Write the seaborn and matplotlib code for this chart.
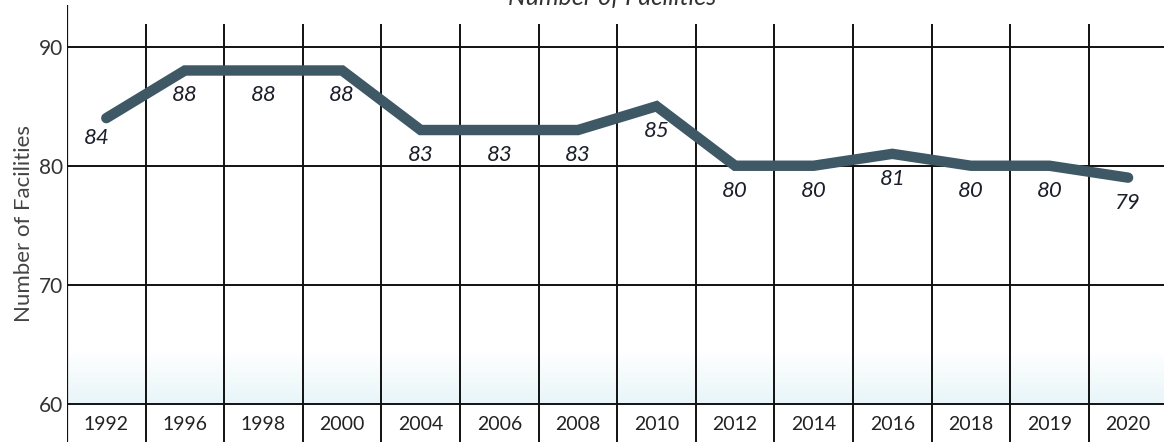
import numpy as np
import pandas as pd
import seaborn as sns
import matplotlib.pyplot as plt

years = ["1992", "1996", "1998", "2000", "2004", "2006", "2008",
         "2010", "2012", "2014", "2016", "2018", "2019", "2020"]
facilities = [84, 88, 88, 88, 83, 83, 83, 85, 80, 80, 81, 80, 80, 79]
y_ticks = [60, 70, 80, 90]

df = pd.DataFrame({"Year": years, "Facilities": facilities})

sns.set_style("white")
plt.rcParams["font.family"] = ["Lato", "DejaVu Sans"]

fig = plt.figure(figsize=(11.64, 4.42), dpi=100)
ax = fig.add_axes([67 / 1164, 0.0, 14 * 78.6 / 1164, 437 / 442])

n = len(years)
ymin, ymax = 56.8, 93.5
ax.set_xlim(-0.5, n - 0.5)
ax.set_ylim(ymin, ymax)

# faint blue tint fading in towards the bottom, like the scanned page
tint = np.zeros((100, 1, 4))
tint[..., 0] = 0.88
tint[..., 1] = 0.95
tint[..., 2] = 0.97
tint[..., 3] = np.linspace(0.75, 0, 100).reshape(-1, 1)
ax.imshow(tint, extent=(-0.5, n - 0.5, 60, 64.5), aspect="auto",
          origin="lower", zorder=0)

# grid
ax.hlines(y_ticks, -0.5, n - 0.5, color="#111111", lw=1.4, zorder=1)
ax.vlines(np.arange(n) + 0.5, ymin, 91.9, color="#111111", lw=1.4, zorder=1)
ax.axvline(-0.5, color="#111111", lw=1.6, zorder=1)

sns.lineplot(data=df, x="Year", y="Facilities", ax=ax, color="#3e5866",
             lw=7.5, solid_capstyle="round", solid_joinstyle="miter",
             sort=False, zorder=3)

for i, v in enumerate(facilities):
    off = (-7, -14) if i == 0 else (0, -18)
    ax.annotate(str(v), (i, v), xytext=off, textcoords="offset points",
                ha="center", va="center", fontsize=16, style="italic",
                color="#1c1f2b", zorder=4)

for i, yr in enumerate(years):
    ax.text(i, 58.3, yr, ha="center", va="center", fontsize=14, color="#222222")

for sp in ax.spines.values():
    sp.set_visible(False)
ax.set_xticks([])
ax.set_yticks(y_ticks)
ax.set_yticklabels([str(t) for t in y_ticks], fontsize=15, color="#333333")
ax.tick_params(axis="y", length=0, pad=3)
ax.set_xlabel("")
ax.set_ylabel("Number of Facilities", fontsize=16, color="#444444", labelpad=3)

fig.text(612 / 1164, 1.005, "Number of Facilities", ha="center", va="center",
         fontsize=18, style="italic", color="#333333")

fig.savefig("out.png", dpi=100)
